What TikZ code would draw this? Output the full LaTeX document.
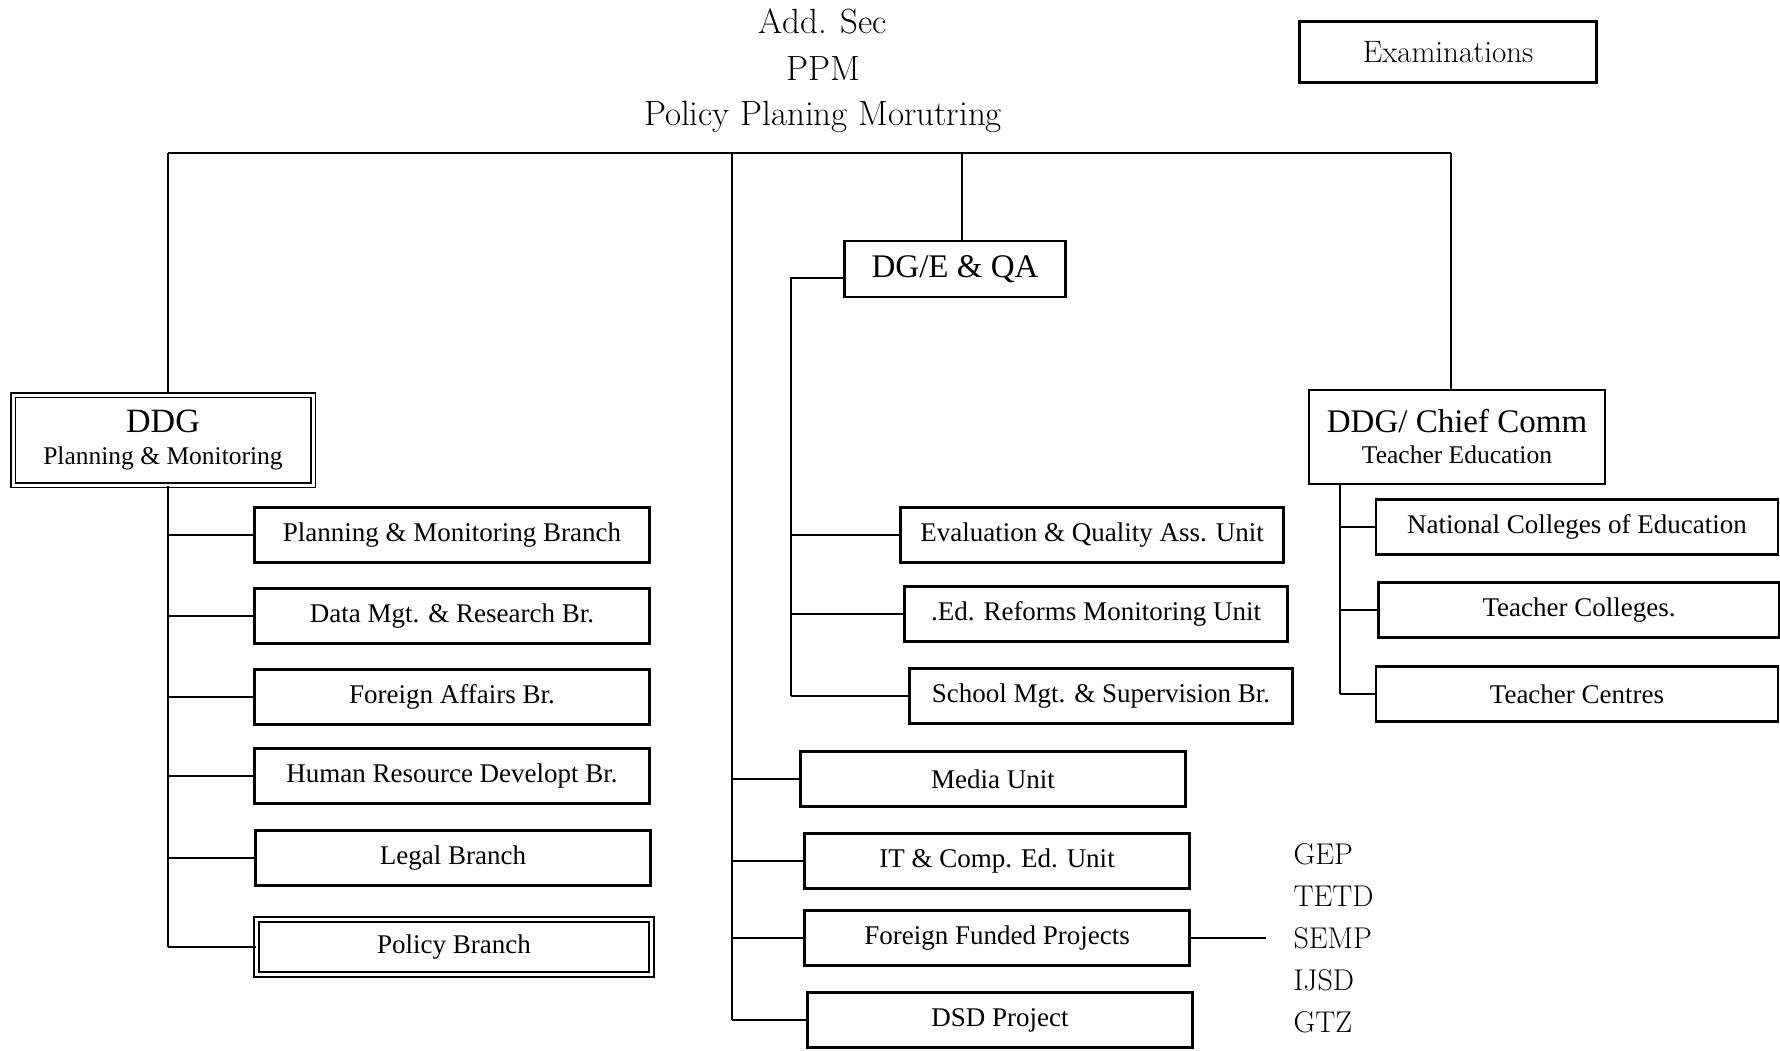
\documentclass[tikz,border=0pt]{standalone}
\usepackage{fontspec}
\newfontfamily\boxfont{Liberation Serif}

\begin{document}
\begin{tikzpicture}[x=1pt,y=-1pt,
    unit/.style={draw,line width=2.5pt,inner sep=0pt,minimum width=395pt,minimum height=55pt,
      font=\boxfont\fontsize{27}{30}\selectfont},
    head/.style={unit,align=center,font=\boxfont\fontsize{33}{36}\selectfont},
    dbl/.style={double,double distance=3pt,line width=1.8pt},
    link/.style={line width=2.3pt},
    title/.style={font=\fontsize{35}{38}\selectfont},
    proj/.style={anchor=west,font=\fontsize{30}{32}\selectfont}]
    \useasboundingbox (0,0) rectangle (1780,1051);
    \begin{scope}
      % heading
      \node[title] (addsec) at (823,21) {Add. Sec};
      \node[title] (ppm) at (823,69) {PPM};
      \node[title] (ppmfull) at (823,117) {Policy Planing Morutring};
      \node[unit,minimum width=297pt,minimum height=61pt,font=\fontsize{31}{34}\selectfont] (exam) at (1448,52) {Examinations};

      % heads
      \node[head,dbl,minimum width=300pt,minimum height=90pt] (ddg) at (163,440)
        {{\fontsize{34}{36}\selectfont DDG}\\[-4pt]{\fontsize{25.5}{28}\selectfont Planning \& Monitoring}};
      \node[head,minimum width=221pt,minimum height=56pt] (dge) at (955,269) {DG/E \& QA};
      \node[head,minimum width=296pt,minimum height=94pt] (ddgc) at (1457,437)
        {{\fontsize{33}{36}\selectfont DDG/ Chief Comm}\\[-5pt]{\fontsize{25.5}{28}\selectfont Teacher Education}};

      % planning & monitoring
      \node[unit] (pmb) at (452,535) {Planning \& Monitoring Branch};
      \node[unit] (dmr) at (452,616) {Data Mgt. \& Research Br.};
      \node[unit] (fab) at (452,697) {Foreign Affairs Br.};
      \node[unit] (hrd) at (452,776) {Human Resource Developt Br.};
      \node[unit] (leg) at (453,858) {Legal Branch};
      \node[unit,dbl] (pol) at (454,947) {Policy Branch};

      % evaluation & QA
      \node[unit,minimum width=383pt] (eqa) at (1092,535) {Evaluation \& Quality Ass. Unit};
      \node[unit,minimum width=383pt] (erm) at (1096,614) {.Ed. Reforms Monitoring Unit};
      \node[unit,minimum width=383pt] (sms) at (1101,696) {School Mgt. \& Supervision Br.};

      % units on the middle line
      \node[unit,minimum width=385pt] (med) at (993,779) {Media Unit};
      \node[unit,minimum width=385pt] (itc) at (997,861) {IT \& Comp. Ed. Unit};
      \node[unit,minimum width=385pt] (ffp) at (997,938) {Foreign Funded Projects};
      \node[unit,minimum width=385pt] (dsd) at (1000,1020) {DSD Project};

      % teacher education
      \node[unit,minimum width=402pt] (nce) at (1577,527) {National Colleges of Education};
      \node[unit,minimum width=401pt] (tcl) at (1579,610) {Teacher Colleges.};
      \node[unit,minimum width=402pt] (tcn) at (1577,694) {Teacher Centres};

      % projects
      \node[proj] (gep) at (1290,854) {GEP};
      \node[proj] (tetd) at (1290,896) {TETD};
      \node[proj] (semp) at (1290,938) {SEMP};
      \node[proj] (ijsd) at (1290,980) {IJSD};
      \node[proj] (gtz) at (1290,1022) {GTZ};

      % lines
      \coordinate (topl) at (168,153);
      \coordinate (topr) at (1451,153);
      \coordinate (midt) at (732,153);
      \coordinate (dgt) at (962,153);
      \coordinate (dgl) at (791,278);
      \coordinate (tet) at (1340,0);
      \coordinate (ffpend) at (1266,0);
      \draw[line width=2.8pt] (topl) -- (topr);
      \draw[link] (topl) -- (topl |- ddg.north);
      \draw[link] (dgt) -- (dgt |- dge.north);
      \draw[link] (topr) -- (topr |- ddgc.north);
      \draw[link] (midt) -- (midt |- dsd.west);
      \draw[link] (topl |- ddg.south) -- (topl |- pol.west);
      \draw[link] (dge.west |- dgl) -- (dgl) -- (dgl |- sms.west);
      \draw[link] (tet |- ddgc.south) -- (tet |- tcn.west);
      \foreach \b in {pmb,dmr,fab,hrd,leg,pol}
        \draw[link] (topl |- \b.west) -- (\b.west);
      \foreach \b in {eqa,erm,sms}
        \draw[link] (dgl |- \b.west) -- (\b.west);
      \foreach \b in {med,itc,ffp,dsd}
        \draw[link] (midt |- \b.west) -- (\b.west);
      \foreach \b in {nce,tcl,tcn}
        \draw[link] (tet |- \b.west) -- (\b.west);
      \draw[link] (ffp.east) -- (ffp.east -| ffpend);
    \end{scope}
\end{tikzpicture}
\end{document}
